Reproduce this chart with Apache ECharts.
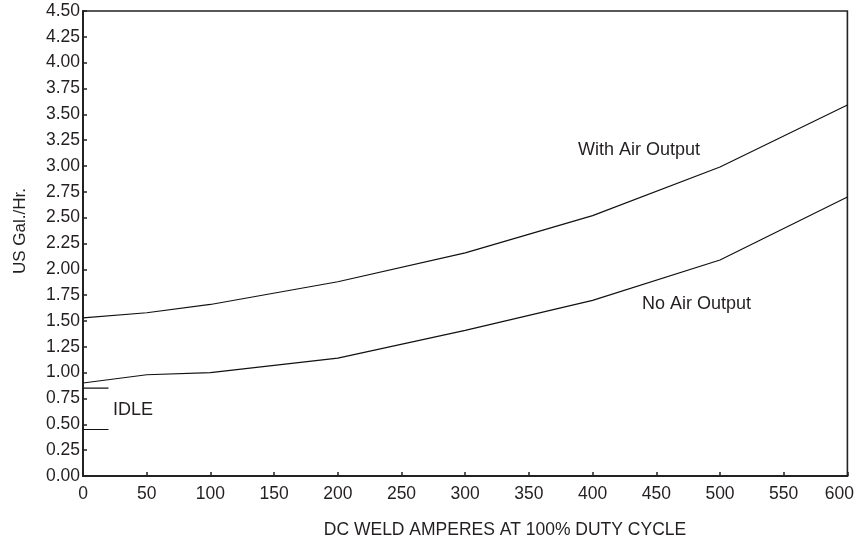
<!DOCTYPE html>
<html>
<head>
<meta charset="utf-8">
<script src="https://cdn.jsdelivr.net/npm/echarts@6/dist/echarts.min.js"></script>
<style>html,body{margin:0;padding:0;background:#fff}#c{width:857px;height:544px}</style>
</head>
<body>
<div id="c"></div>
<script>
const amps = [0, 50, 100, 200, 300, 400, 500, 600];
const withAir = [1.53, 1.58, 1.66, 1.88, 2.16, 2.52, 2.99, 3.59];
const noAir = [0.90, 0.98, 1.00, 1.14, 1.41, 1.70, 2.09, 2.70];
const idleX = [0, 20];
const idleHigh = [0.85, 0.85];
const idleLow = [0.45, 0.45];
const xTitle = 'DC WELD AMPERES AT 100% DUTY CYCLE';
const yTitle = 'US Gal./Hr.';

const pairs = (xs, ys) => xs.map((x, i) => [x, ys[i]]);
const txt = '#231f20';
const font = 'Liberation Sans, Arial, sans-serif';
const lineStyle = { color: '#111', width: 1.2 };

const chart = echarts.init(document.getElementById('c'), null, { renderer: 'canvas' });
chart.setOption({
  animation: false,
  grid: { left: 83, right: 8, top: 11, bottom: 68, show: true, borderColor: '#222', borderWidth: 1.6, backgroundColor: 'transparent' },
  xAxis: {
    type: 'value', min: 0, max: 600, interval: 50,
    axisLine: { show: true, lineStyle: { color: '#222', width: 2 } },
    axisTick: { show: true, inside: true, length: 4, lineStyle: { color: '#222', width: 1.5 } },
    splitLine: { show: false },
    axisLabel: {
      margin: 9, color: txt, fontSize: 17.5, fontFamily: font,
      formatter: v => v === 600 ? '{m|600}' : String(v),
      rich: { m: { padding: [0, 16, 0, 0], fontSize: 17.5, fontFamily: font, color: txt } }
    }
  },
  yAxis: {
    type: 'value', min: 0, max: 4.5, interval: 0.25,
    axisLine: { show: true, lineStyle: { color: '#222', width: 2 } },
    axisTick: { show: true, inside: true, length: 4, lineStyle: { color: '#222', width: 1.5 } },
    splitLine: { show: false },
    axisLabel: { margin: 3, color: txt, fontSize: 17.5, fontFamily: font, formatter: v => v.toFixed(2) }
  },
  series: [
    { type: 'line', name: 'With Air Output', data: pairs(amps, withAir), symbol: 'none', lineStyle },
    { type: 'line', name: 'No Air Output', data: pairs(amps, noAir), symbol: 'none', lineStyle },
    { type: 'line', name: 'Idle high', data: pairs(idleX, idleHigh), symbol: 'none', lineStyle },
    { type: 'line', name: 'Idle low', data: pairs(idleX, idleLow), symbol: 'none', lineStyle }
  ],
  graphic: [
    { type: 'text', left: 578, top: 141, style: { text: 'With Air Output', fontSize: 18, fontFamily: font, fill: txt } },
    { type: 'text', left: 642, top: 295, style: { text: 'No Air Output', fontSize: 18, fontFamily: font, fill: txt } },
    { type: 'text', left: 113, top: 401, style: { text: 'IDLE', fontSize: 18, fontFamily: font, fill: txt } },
    { type: 'text', x: 505, y: 530, style: { text: xTitle, fontSize: 17.5, fontFamily: font, fill: txt, align: 'center', verticalAlign: 'middle' } },
    { type: 'text', x: 20, y: 231, rotation: Math.PI / 2, style: { text: yTitle, fontSize: 17, fontFamily: font, fill: txt, align: 'center', verticalAlign: 'middle' } }
  ]
});
</script>
</body>
</html>
